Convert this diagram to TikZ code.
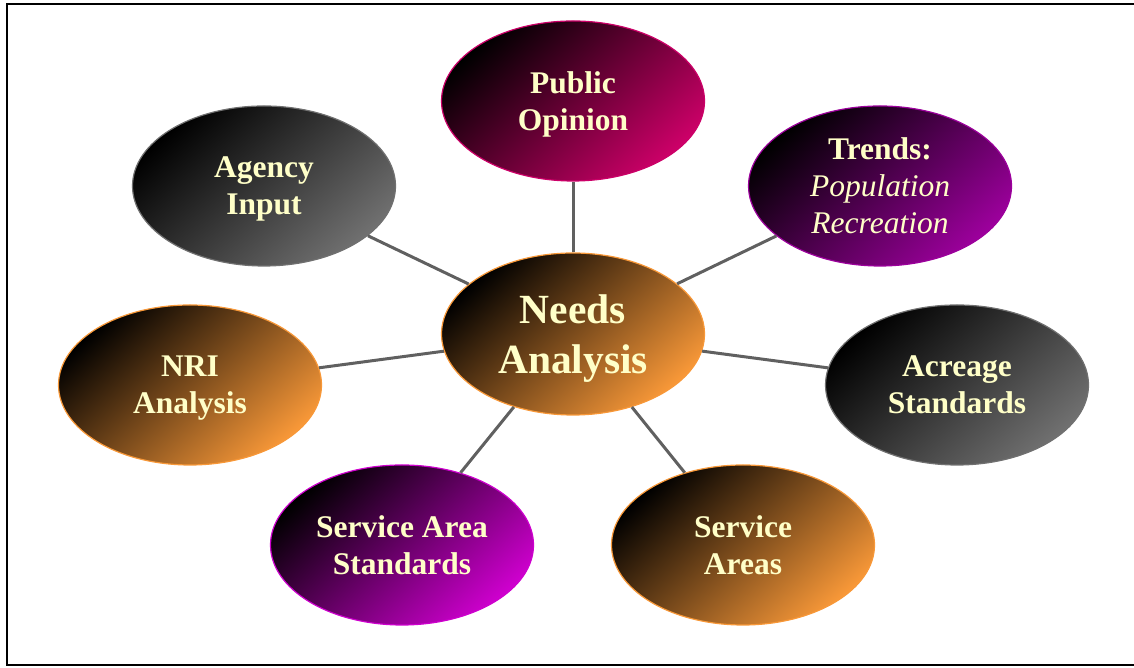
\documentclass[tikz,border=0pt]{standalone}
\usepackage{fontspec}
\setmainfont{Liberation Serif}
\usetikzlibrary{positioning, calc, shapes.geometric}

\definecolor{cream}{RGB}{255,255,200}
\definecolor{spoke}{RGB}{96,96,96}
\definecolor{amber}{RGB}{248,152,56}
\definecolor{crimson}{RGB}{204,0,104}
\definecolor{plum}{RGB}{156,0,156}
\definecolor{violet}{RGB}{206,0,206}
\definecolor{slate}{RGB}{112,112,112}

\tikzset{
    bubble/.style={ellipse, draw=#1, line width=1.2pt, top color=black, bottom color=#1,
        shading angle=42, minimum width=263pt, minimum height=160pt, inner sep=0pt,
        text=cream, text depth=0pt, align=center, font=\fontsize{31.5}{37}\selectfont\bfseries},
    hubble/.style={bubble=#1, minimum height=162pt, font=\fontsize{41.5}{50}\selectfont\bfseries},
    link/.style={draw=spoke, line width=3pt}
}

\begin{document}
\begin{tikzpicture}[x=1pt, y=1pt]
        \useasboundingbox (0,0) rectangle (1134,668);
        \draw[line width=2pt] (1134,664) -- (7,664) -- (7,3) -- (1134,3); % open frame

        \node[hubble=amber] (needs) at (573,334) {Needs\\Analysis}; % hub
        \node[bubble=crimson] (opinion) at (573,567) {Public\\Opinion};
        \node[bubble=slate] (agency) at (264,482) {Agency\\Input};
        \node[bubble=plum] (trends) at (880,482) {Trends:\\\normalfont\itshape Population\\\normalfont\itshape Recreation};
        \node[bubble=amber] (nri) at (190,283) {NRI\\Analysis};
        \node[bubble=slate] (acreage) at (957,283) {Acreage\\Standards};
        \node[bubble=violet] (sastd) at (402,123) {Service Area\\Standards};
        \node[bubble=amber] (sareas) at (743,123) {Service\\Areas};

        % Spokes from the hub
        \foreach \j in {opinion, agency, trends, nri, acreage, sastd, sareas} {
            \draw[link] (needs) -- (\j);
        }
\end{tikzpicture}
\end{document}
